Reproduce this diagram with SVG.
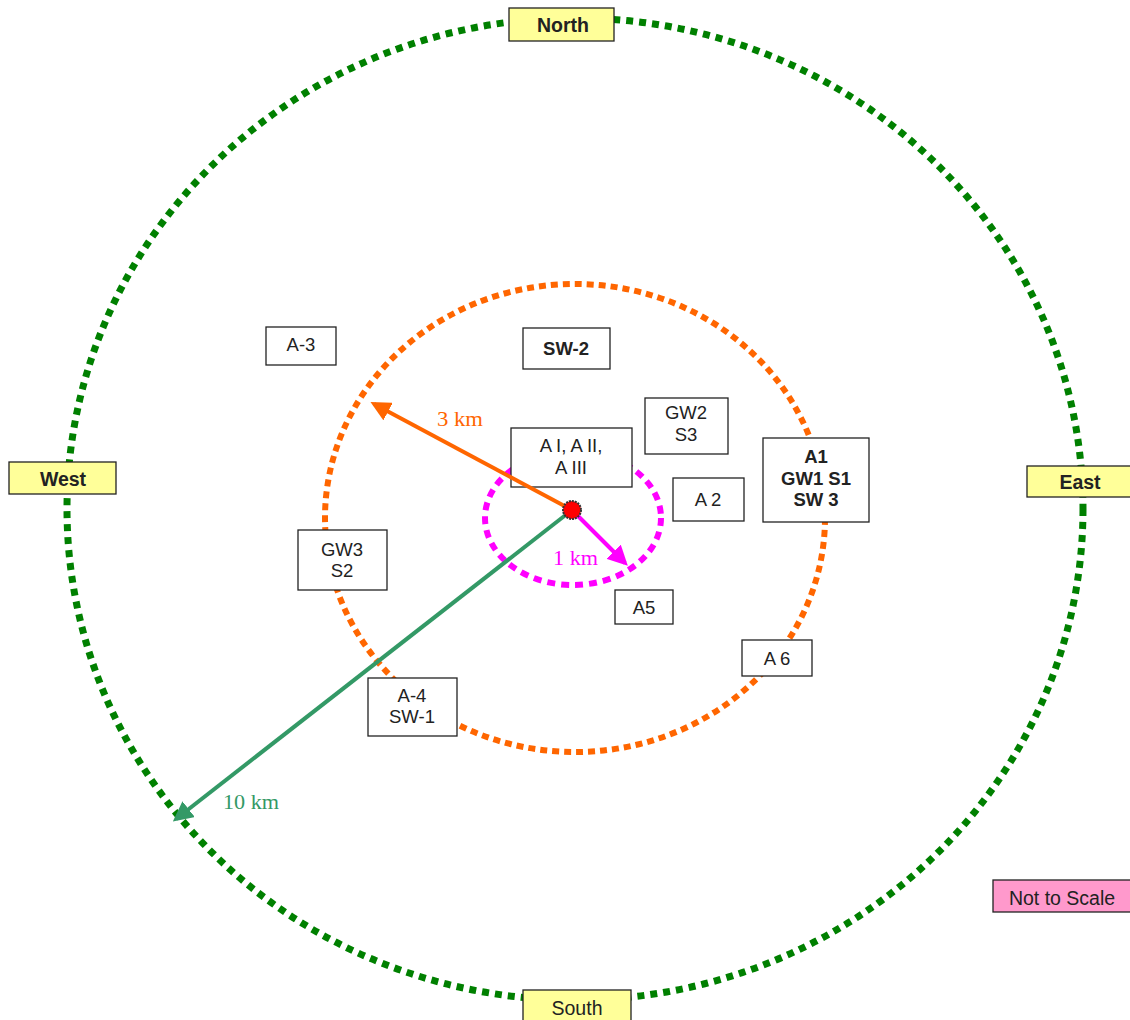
<svg xmlns="http://www.w3.org/2000/svg" width="1130" height="1020" viewBox="0 0 1130 1020">
<style>
.box{fill:#fff;stroke:#222;stroke-width:1.3}
.dir{fill:#ffff99;stroke:#222;stroke-width:1.3}
.t{font-family:"Liberation Sans",Arial,sans-serif;font-size:18.5px;fill:#222;text-anchor:middle}
.b{font-weight:bold}
.d{font-size:19.5px}
.km{font-family:"Liberation Serif","Times New Roman",serif;font-size:21px}
</style>
<defs>
<marker id="ao" markerWidth="5" markerHeight="5" refX="4" refY="2.5" orient="auto" markerUnits="strokeWidth"><path d="M0,0 L5,2.5 L0,5 z" fill="#ff6600"/></marker>
<marker id="ag" markerWidth="5" markerHeight="5" refX="4" refY="2.5" orient="auto" markerUnits="strokeWidth"><path d="M0,0 L5,2.5 L0,5 z" fill="#339966"/></marker>
<marker id="am" markerWidth="5" markerHeight="5" refX="4" refY="2.5" orient="auto" markerUnits="strokeWidth"><path d="M0,0 L5,2.5 L0,5 z" fill="#ff00ff"/></marker>
</defs>
<rect width="1130" height="1020" fill="#fff"/>
<g id="rings" fill="none">
<ellipse cx="575" cy="509" rx="508" ry="491" stroke="#008000" stroke-width="7" stroke-dasharray="7 6"/>
<ellipse cx="575" cy="518" rx="250" ry="234" stroke="#ff6600" stroke-width="6" stroke-dasharray="7 5"/>
<ellipse cx="573" cy="518" rx="88" ry="67" stroke="#ff00ff" stroke-width="6" stroke-dasharray="8 6"/>
</g>
<g id="north"><rect class="dir" x="509" y="8" width="105" height="33"/><text class="t b d" x="563" y="32">North</text></g>
<g id="west"><rect class="dir" x="9" y="462" width="107" height="32"/><text class="t b d" x="63" y="486">West</text></g>
<g id="east"><rect class="dir" x="1027" y="466" width="108" height="31"/><text class="t b d" x="1080" y="489">East</text></g>
<g id="south"><rect class="dir" x="523" y="990" width="108" height="35"/><text class="t d" x="577" y="1015">South</text></g>
<g id="scale"><rect x="993" y="880" width="140" height="32" fill="#ff99cc" stroke="#222" stroke-width="1.3"/><text class="t d" x="1062" y="905">Not to Scale</text></g>
<g id="a3"><rect class="box" x="266" y="327" width="70" height="38"/><text class="t" x="301" y="351">A-3</text></g>
<g id="sw2"><rect class="box" x="523" y="328" width="87" height="41"/><text class="t b" x="566" y="355">SW-2</text></g>
<g id="gw2"><rect class="box" x="645" y="398" width="83" height="56"/><text class="t" x="686" y="419">GW2</text><text class="t" x="686" y="441">S3</text></g>
<g id="aiii"><rect class="box" x="511" y="428" width="121" height="59"/><text class="t" x="571" y="452">A I, A II,</text><text class="t" x="571" y="474">A III</text></g>
<g id="a2"><rect class="box" x="673" y="478" width="71" height="43"/><text class="t" x="708" y="506">A 2</text></g>
<g id="a1"><rect class="box" x="763" y="438" width="106" height="84"/><text class="t b" x="816" y="463">A1</text><text class="t b" x="816" y="485">GW1 S1</text><text class="t b" x="816" y="506">SW 3</text></g>
<g id="gw3"><rect class="box" x="298" y="530" width="89" height="60"/><text class="t" x="342" y="556">GW3</text><text class="t" x="342" y="577">S2</text></g>
<g id="a5"><rect class="box" x="615" y="590" width="58" height="34"/><text class="t" x="644" y="614">A5</text></g>
<g id="a6"><rect class="box" x="742" y="640" width="70" height="36"/><text class="t" x="777" y="665">A 6</text></g>
<g id="a4"><rect class="box" x="368" y="678" width="89" height="58"/><text class="t" x="412" y="702">A-4</text><text class="t" x="412" y="723">SW-1</text></g>
<g id="connectors" stroke-width="4" fill="none">
<line x1="572" y1="510" x2="374" y2="404" stroke="#ff6600" marker-end="url(#ao)"/>
<line x1="572" y1="510" x2="176" y2="819" stroke="#339966" marker-end="url(#ag)"/>
<line x1="572" y1="510" x2="625" y2="563" stroke="#ff00ff" marker-end="url(#am)"/>
</g>
<g id="labels">
<text class="km" x="437" y="426" fill="#ff6600" textLength="46" lengthAdjust="spacingAndGlyphs">3 km</text>
<text class="km" x="553" y="565" fill="#ff00ff" textLength="45" lengthAdjust="spacingAndGlyphs">1 km</text>
<text class="km" x="223" y="809" fill="#339966" textLength="56" lengthAdjust="spacingAndGlyphs">10 km</text>
</g>
<g id="origin"><circle cx="572" cy="510" r="9" fill="#ff0000" stroke="#333" stroke-width="2" stroke-dasharray="2 1"/></g>
</svg>
